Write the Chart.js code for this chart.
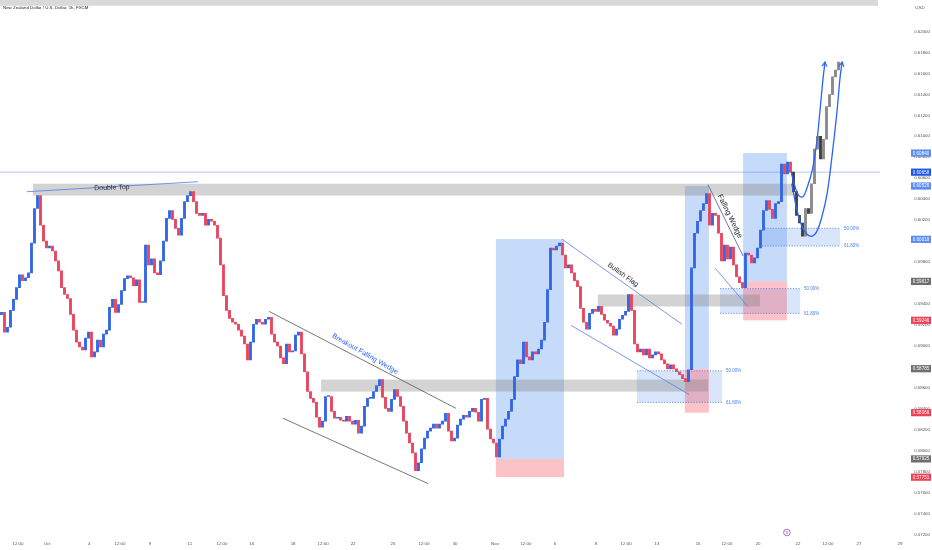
<!DOCTYPE html>
<html>
<head>
<meta charset="utf-8">
<script src="https://cdn.jsdelivr.net/npm/chart.js@4.4.1/dist/chart.umd.min.js"></script>
<style>
  html, body { margin: 0; padding: 0; background: #fff; }
  #wrap { width: 932px; height: 550px; position: relative; }
</style>
</head>
<body>
<div id="wrap"><canvas id="chart" width="932" height="550"></canvas></div>
<script>
// NZDUSD 1h closes (one value per ~3px)
const firstOpen = 0.59300;
const closes = [
  0.59322, 0.59133, 0.59180, 0.59341, 0.59445, 0.59558, 0.59680, 0.59624, 0.59652, 0.59699,
  0.59982, 0.60312, 0.60435, 0.60152, 0.60001, 0.59935, 0.59954, 0.59907, 0.59812, 0.59718,
  0.59558, 0.59492, 0.59454, 0.59303, 0.59152, 0.59039, 0.58992, 0.58964, 0.59077, 0.59133,
  0.58898, 0.58945, 0.59058, 0.58992, 0.59114, 0.59152, 0.59369, 0.59445, 0.59322, 0.59397,
  0.59529, 0.59643, 0.59671, 0.59652, 0.59577, 0.59633, 0.59416, 0.59416, 0.59963, 0.59775,
  0.59831, 0.59699, 0.59680, 0.59812, 0.60001, 0.60218, 0.60293, 0.60208, 0.60123, 0.60057,
  0.60218, 0.60378, 0.60435, 0.60472, 0.60378, 0.60265, 0.60246, 0.60265, 0.60152, 0.60208,
  0.60190, 0.60152, 0.60029, 0.59775, 0.59482, 0.59341, 0.59265, 0.59228, 0.59209, 0.59152,
  0.59096, 0.59020, 0.58869, 0.59039, 0.59209, 0.59256, 0.59228, 0.59209, 0.59256, 0.59275,
  0.59114, 0.59039, 0.59001, 0.58888, 0.58832, 0.59020, 0.58945, 0.58954, 0.59105, 0.59133,
  0.58926, 0.58756, 0.58568, 0.58502, 0.58464, 0.58322, 0.58228, 0.58285, 0.58520, 0.58520,
  0.58379, 0.58313, 0.58322, 0.58294, 0.58285, 0.58332, 0.58285, 0.58256, 0.58294, 0.58171,
  0.58237, 0.58426, 0.58502, 0.58502, 0.58568, 0.58624, 0.58681, 0.58511, 0.58407, 0.58379,
  0.58492, 0.58586, 0.58520, 0.58426, 0.58285, 0.58171, 0.58077, 0.57983, 0.57813, 0.57889,
  0.58021, 0.58124, 0.58190, 0.58219, 0.58256, 0.58219, 0.58256, 0.58285, 0.58360, 0.58190,
  0.58096, 0.58124, 0.58247, 0.58304, 0.58341, 0.58322, 0.58379, 0.58407, 0.58370, 0.58285,
  0.58492, 0.58502, 0.58209, 0.58115, 0.58077, 0.57945, 0.58115, 0.58237, 0.58304, 0.58379,
  0.58492, 0.58709, 0.58869, 0.58832, 0.59039, 0.58898, 0.58869, 0.58945, 0.58926, 0.58973,
  0.59058, 0.59228, 0.59539, 0.59935, 0.59916, 0.59954, 0.59982, 0.59869, 0.59746, 0.59775,
  0.59699, 0.59624, 0.59567, 0.59360, 0.59228, 0.59162, 0.59313, 0.59350, 0.59331, 0.59379,
  0.59303, 0.59247, 0.59218, 0.59190, 0.59105, 0.59162, 0.59256, 0.59294, 0.59331, 0.59492,
  0.59341, 0.59020, 0.58945, 0.58973, 0.58916, 0.58973, 0.58888, 0.58916, 0.58945, 0.58926,
  0.58869, 0.58832, 0.58784, 0.58822, 0.58784, 0.58756, 0.58728, 0.58690, 0.58662, 0.58775,
  0.59746, 0.60076, 0.60190, 0.60293, 0.60359, 0.60454, 0.60152, 0.60265, 0.60246, 0.60076,
  0.59812, 0.59963, 0.59831, 0.59944, 0.59775, 0.59661, 0.59605, 0.59558, 0.59888, 0.59869,
  0.59793, 0.59841, 0.59935, 0.60105, 0.60293, 0.60388, 0.60303, 0.60218, 0.60359, 0.60378,
  0.60736, 0.60642, 0.60755, 0.60658
];
// grey "bars pattern" projection drawn after the last candle
const projection = [
  0.60472, 0.60246, 0.60174, 0.60048, 0.60312, 0.60265, 0.60548, 0.60878,
  0.61000, 0.60784, 0.60972, 0.61283, 0.61397, 0.61566, 0.61632, 0.61708
];
const lastPrice = 0.60658;

// time axis (x = candle index)
const xTickPos = [5.5, 15.2, 29.2, 39.5, 49.5, 62.8, 73.5, 83.5, 97.2, 107.2, 117.2, 130.5, 140.8, 151.2,
  164.5, 174.8, 184.5, 198.2, 208.2, 218.5, 232.2, 241.8, 252.2, 265.5, 275.5, 285.8, 299.5];
const xTickLabels = ['12:00', 'Oct', '4', '12:00', '9', '11', '12:00', '16', '18', '12:00', '22', '25', '12:00', '30',
  'Nov', '12:00', '6', '8', '12:00', '13', '15', '12:00', '20', '22', '12:00', '27', '29'];

const yTicks = [];
for (let v = 0.572; v <= 0.62001; v += 0.002) yTicks.push(+v.toFixed(3));

// labels on the price scale
const priceMarks = [0.60840, 0.60658, 0.60526, 0.60018, 0.59617, 0.59246, 0.58785, 0.58366, 0.57925, 0.57751];
const priceMarkKinds = ['target', 'last', 'target', 'target', 'entry', 'stop', 'entry', 'stop', 'entry', 'stop'];

// drawings, in candle index / price
const zones = [ // [from, to, low, high]
  [10.5, 264.5, 0.60435, 0.60548],
  [106.5, 235.5, 0.58567, 0.58681],
  [198.8, 252.8, 0.59378, 0.59492]
];
const positions = [ // [from, to, target, entry, stop]
  [164.8, 187.5, 0.60020, 0.57925, 0.57751],
  [227.8, 235.8, 0.60526, 0.58785, 0.58366],
  [247.2, 261.8, 0.60840, 0.59617, 0.59246]
];
const fibs = [ // [from, to, 50%, 61.8%]
  [211.8, 240.2, 0.58765, 0.58464],
  [239.5, 266.2, 0.59548, 0.59312],
  [253.5, 279.5, 0.60123, 0.59954]
];
const trendLines = [
  [[8.5, 0.60472], [65.5, 0.60567]],
  [[89.2, 0.59331], [151.5, 0.58407]],
  [[93.8, 0.58313], [142.2, 0.57690]],
  [[186.8, 0.60020], [226.8, 0.59209]],
  [[189.8, 0.59199], [229.2, 0.58539]],
  [[235.5, 0.60538], [247.2, 0.59859]],
  [[237.8, 0.59746], [248.8, 0.59378]]
];
const trendColors = ['#4a7ee8', '#555', '#555', '#5a7fe0', '#5a7fe0', '#4d5a80', '#5a7fe0'];
const curveA = [[263.2, 0.60661], [264.5, 0.60520], [265.8, 0.60435], [267.2, 0.60425], [268.5, 0.60510],
  [270.2, 0.60670], [271.8, 0.60953], [272.8, 0.61236], [273.8, 0.61538], [274.5, 0.61708]];
const curveB = [[263.4, 0.60548], [265.2, 0.60293], [266.8, 0.60142], [268.5, 0.60067], [270.2, 0.60048],
  [271.8, 0.60095], [273.5, 0.60237], [275.2, 0.60454], [276.8, 0.60802], [278.5, 0.61236],
  [279.5, 0.61557], [280.2, 0.61708]];
const notes = [
  { text: 'Double Top', x: 36.8, p: 0.60510, angle: -2, color: '#1e222d', size: 7 },
  { text: 'Breakout Falling Wedge', x: 121.2, p: 0.58926, angle: 29.7, color: '#2962ff', size: 7 },
  { text: 'Bullish Flag', x: 207.2, p: 0.59680, angle: 35.5, color: '#1e222d', size: 7 },
  { text: 'Falling Wedge', x: 242.8, p: 0.60237, angle: 64, color: '#1e222d', size: 7.5 }
];

const UP = '#3366e6', DOWN = '#e8455e';
const GREY_UP = '#8a8a8a', GREY_DOWN = '#3e3e3e';
const BLUE = '#2962ff';
const X_MIN = -0.5, X_MAX = 880 / 3 - 0.5;

function toCandles(list, start, open) {
  const out = [];
  let o = open;
  list.forEach((c, k) => {
    out.push({ x: start + k, y: [o, c], up: c >= o });
    o = c;
  });
  return out;
}

function lineSet(pts, color, width, extra) {
  return Object.assign({
    type: 'line',
    data: pts.map(p => ({ x: p[0], y: p[1] })),
    borderColor: color,
    borderWidth: width,
    pointRadius: 0,
    fill: false,
    order: 0
  }, extra || {});
}

const datasets = [];
trendLines.forEach((l, i) => datasets.push(lineSet(l, trendColors[i], 0.8)));
datasets.push(lineSet(curveA, BLUE, 1.3, { tension: 0.4 }));
datasets.push(lineSet(curveB, BLUE, 1.3, { tension: 0.4 }));
fibs.forEach(f => {
  datasets.push(lineSet([[f[0], f[2]], [f[1], f[2]]], '#4a7fe8', 0.8, { borderDash: [1.2, 1.5] }));
  datasets.push(lineSet([[f[0], f[3]], [f[1], f[3]]], '#4a7fe8', 0.8, { borderDash: [1.2, 1.5] }));
});
datasets.push(lineSet([[X_MIN, lastPrice], [X_MAX, lastPrice]], 'rgba(41,98,255,0.45)', 0.8, { order: 20 }));

datasets.push({
  type: 'bar',
  data: toCandles(closes, 0, firstOpen),
  backgroundColor: c => (c.raw && c.raw.up ? UP : DOWN),
  barThickness: 2.2,
  minBarLength: 1,
  grouped: false,
  order: 10
});
datasets.push({
  type: 'bar',
  data: toCandles(projection, closes.length, closes[closes.length - 1]),
  backgroundColor: c => (c.raw && c.raw.up ? GREY_UP : GREY_DOWN),
  barThickness: 2.2,
  minBarLength: 1,
  grouped: false,
  order: 10
});

function arrowHead(ctx, x, y, pts) {
  const a = pts[pts.length - 2], b = pts[pts.length - 1];
  const ax = x.getPixelForValue(a[0]), ay = y.getPixelForValue(a[1]);
  const bx = x.getPixelForValue(b[0]), by = y.getPixelForValue(b[1]);
  const ang = Math.atan2(by - ay, bx - ax);
  const len = 5;
  ctx.beginPath();
  ctx.moveTo(bx - len * Math.cos(ang - 0.5), by - len * Math.sin(ang - 0.5));
  ctx.lineTo(bx, by);
  ctx.lineTo(bx - len * Math.cos(ang + 0.5), by - len * Math.sin(ang + 0.5));
  ctx.stroke();
}

const overlay = {
  id: 'overlay',
  beforeDatasetsDraw(chart) {
    const { ctx, chartArea: ca, scales: { x, y } } = chart;
    ctx.save();
    ctx.beginPath();
    ctx.rect(ca.left, ca.top, ca.width, ca.height);
    ctx.clip();
    const rect = (x0, x1, p0, p1, fill) => {
      const l = x.getPixelForValue(x0), r = x.getPixelForValue(x1);
      const t = y.getPixelForValue(Math.max(p0, p1)), b = y.getPixelForValue(Math.min(p0, p1));
      ctx.fillStyle = fill;
      ctx.fillRect(l, t, r - l, b - t);
    };
    fibs.forEach(f => rect(f[0], f[1], f[2], f[3], 'rgba(66,123,235,0.2)'));
    positions.forEach(p => {
      rect(p[0], p[1], p[2], p[3], 'rgba(66,133,240,0.3)');
      rect(p[0], p[1], p[3], p[4], 'rgba(242,54,69,0.3)');
    });
    zones.forEach(z => rect(z[0], z[1], z[2], z[3], 'rgba(128,128,128,0.35)'));
    ctx.restore();
  },
  afterDatasetsDraw(chart) {
    const { ctx, scales: { x, y } } = chart;
    ctx.save();
    ctx.strokeStyle = BLUE;
    ctx.lineWidth = 1.2;
    arrowHead(ctx, x, y, curveA);
    arrowHead(ctx, x, y, curveB);
    notes.forEach(n => {
      ctx.save();
      ctx.translate(x.getPixelForValue(n.x), y.getPixelForValue(n.p));
      ctx.rotate(n.angle * Math.PI / 180);
      ctx.font = n.size + 'px "Liberation Sans", sans-serif';
      ctx.fillStyle = n.color;
      ctx.textAlign = 'center';
      ctx.textBaseline = 'middle';
      ctx.fillText(n.text, 0, 0);
      ctx.restore();
    });
    ctx.font = '4.5px "Liberation Sans", sans-serif';
    ctx.fillStyle = '#4a7fe8';
    ctx.textAlign = 'left';
    ctx.textBaseline = 'middle';
    fibs.forEach(f => {
      const px = x.getPixelForValue(f[1]) + 4;
      ctx.fillText('50.00%', px, y.getPixelForValue(f[2]));
      ctx.fillText('61.80%', px, y.getPixelForValue(f[3]));
    });
    ctx.restore();
  },
  afterDraw(chart) {
    const { ctx, chartArea: ca, scales: { x, y } } = chart;
    ctx.save();
    // price scale labels
    const colors = { target: '#5b8def', last: '#1f55e6', entry: '#6f6f6f', stop: '#f04054' };
    ctx.font = '4.5px "Liberation Sans", sans-serif';
    ctx.textAlign = 'center';
    ctx.textBaseline = 'middle';
    priceMarks.forEach((v, i) => {
      const py = y.getPixelForValue(v);
      ctx.fillStyle = colors[priceMarkKinds[i]];
      ctx.fillRect(911, py - 3.6, 20, 7.2);
      ctx.fillStyle = '#fff';
      ctx.fillText(v.toFixed(5), 921, py + 0.2);
    });
    // header strip and title
    ctx.fillStyle = '#d9d9d9';
    ctx.fillRect(0, 0, 878, 5.8);
    ctx.fillStyle = '#222';
    ctx.textAlign = 'left';
    ctx.font = '4.4px "Liberation Sans", sans-serif';
    ctx.fillText('New Zealand Dollar / U.S. Dollar, 1h, FXCM', 3, 7.8);
    ctx.fillStyle = '#555';
    ctx.textAlign = 'center';
    ctx.fillText('USD', 920, 7.5);
    // event marker
    const ex = x.getPixelForValue(261.8), ey = ca.bottom - 2.5;
    ctx.strokeStyle = '#9c3cc8';
    ctx.lineWidth = 0.8;
    ctx.beginPath();
    ctx.arc(ex, ey, 3.3, 0, Math.PI * 2);
    ctx.stroke();
    ctx.fillStyle = '#9c3cc8';
    ctx.font = '4px "Liberation Sans", sans-serif';
    ctx.fillText('8', ex, ey + 0.2);
    ctx.restore();
  }
};

Chart.defaults.font.family = '"Liberation Sans", sans-serif';

new Chart(document.getElementById('chart'), {
  type: 'bar',
  data: { datasets },
  options: {
    responsive: false,
    animation: false,
    events: [],
    layout: { padding: { left: 0, right: 2, top: 0, bottom: 0 } },
    plugins: { legend: { display: false }, tooltip: { enabled: false } },
    scales: {
      x: {
        type: 'linear',
        min: X_MIN,
        max: X_MAX,
        offset: false,
        bounds: 'data',
        grid: { display: false, drawTicks: false },
        border: { display: false },
        afterFit: s => { s.height = 15; },
        afterBuildTicks: s => { s.ticks = xTickPos.map(v => ({ value: v })); },
        ticks: {
          autoSkip: false,
          maxRotation: 0,
          padding: 6.5,
          color: '#555',
          font: { size: 4.4 },
          callback: (v, i) => xTickLabels[i]
        }
      },
      y: {
        type: 'linear',
        position: 'right',
        min: 0.572,
        max: 0.622452,
        bounds: 'data',
        grid: { display: false, drawTicks: false },
        border: { display: false },
        afterFit: s => { s.width = 50; },
        afterBuildTicks: s => { s.ticks = yTicks.map(v => ({ value: v })); },
        ticks: {
          crossAlign: 'far',
          color: '#555',
          font: { size: 4.4 },
          callback: v => v.toFixed(5)
        }
      }
    }
  },
  plugins: [overlay]
});
</script>
</body>
</html>
